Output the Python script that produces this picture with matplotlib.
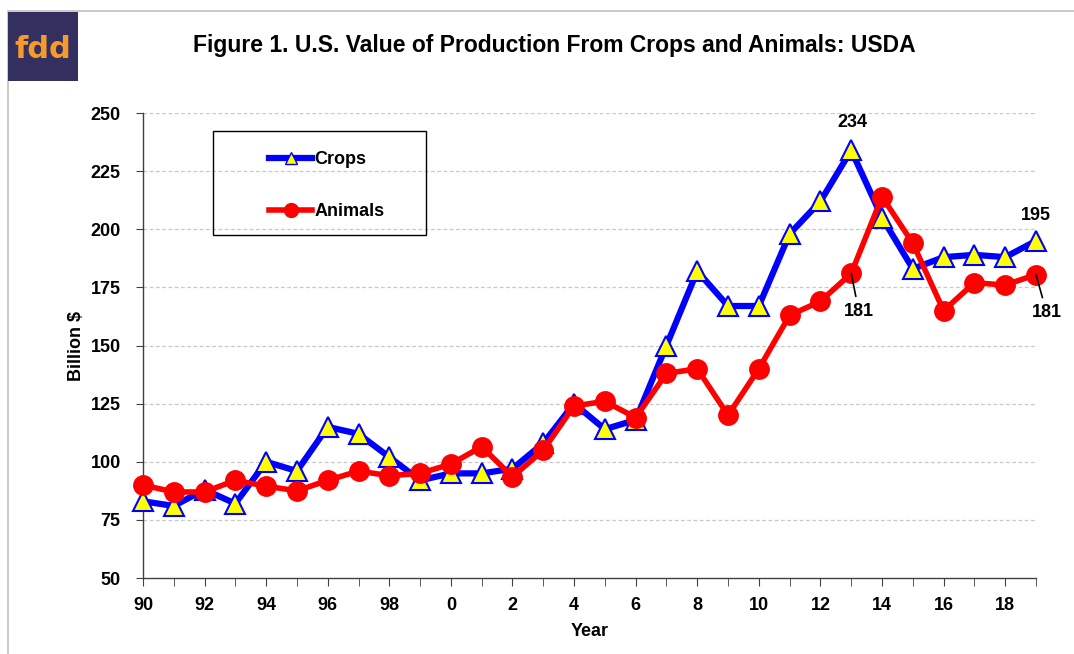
import matplotlib
matplotlib.use("Agg")
import matplotlib.pyplot as plt
from matplotlib.lines import Line2D
from matplotlib.patches import Rectangle

plt.rcParams['font.family'] = ['Liberation Sans', 'DejaVu Sans']

# values (billion $)
years = list(range(1990, 2020))
crops = [83, 81, 88, 82, 100, 96, 115, 112, 102, 92,
         95, 95, 97, 108, 125, 114, 118, 150, 182, 167,
         167, 198, 212, 234, 205, 183, 188, 189, 188, 195]
animals = [90, 87, 87, 92, 89.5, 87.5, 92, 96, 94, 95,
           99, 106.5, 93.5, 105, 124, 126, 119, 138, 140, 120,
           140, 163, 169, 181, 214, 194, 165, 177, 176, 180.5]
tick_years = list(range(1990, 2020, 2))
tick_labels = [str(y % 100) for y in tick_years]

fig = plt.figure(figsize=(10.74, 6.54), dpi=100)
ax = fig.add_axes([0.1331, 0.1162, 0.8315, 0.7110])

ax.plot(years, crops, color='#0000ff', lw=4.5, marker='^', ms=14,
        mfc='#ffff00', mec='#0000ff', mew=1.5, zorder=3, clip_on=False)
ax.plot(years, animals, color='#ff0000', lw=4, marker='o', ms=14,
        mfc='#ff0000', mec='#ff0000', zorder=4, clip_on=False)

ax.set_xlim(1990, 2019)
ax.set_ylim(50, 250)
ax.set_yticks(range(50, 251, 25))
ax.set_xticks(years, minor=True)
ax.set_xticks(tick_years)
ax.set_xticklabels(tick_labels)
for y in range(75, 251, 25):
    ax.axhline(y, color='#c8c8c8', lw=0.9, ls=(0, (3, 2)), zorder=0)

ax.spines['top'].set_visible(False)
ax.spines['right'].set_visible(False)
for s in ('left', 'bottom'):
    ax.spines[s].set_color('#404040')
    ax.spines[s].set_linewidth(1)
ax.tick_params(axis='y', direction='out', length=5, color='#404040', labelsize=13, pad=11)
ax.tick_params(axis='x', which='both', direction='out', length=6, color='#404040', labelsize=13, pad=8)
for lab in ax.get_xticklabels() + ax.get_yticklabels():
    lab.set_fontweight('bold')
ax.set_ylabel('Billion $', fontsize=13, fontweight='bold', labelpad=4)
ax.set_xlabel('Year', fontsize=13, fontweight='bold', labelpad=6)

# annotations
ax.text(2013.05, 246, '234', ha='center', va='center', fontsize=13, fontweight='bold')
ax.text(2019.0, 206, '195', ha='center', va='center', fontsize=13, fontweight='bold')
ax.annotate('181', xy=(2013, 181), xytext=(2013.25, 164.5), ha='center', va='center',
            fontsize=13, fontweight='bold', zorder=6,
            arrowprops=dict(arrowstyle='-', color='black', lw=1.2, shrinkA=3, shrinkB=0))
ax.annotate('181', xy=(2019, 180.5), xytext=(2019.35, 164), ha='center', va='center',
            fontsize=13, fontweight='bold', annotation_clip=False, zorder=6,
            arrowprops=dict(arrowstyle='-', color='black', lw=1.2, shrinkA=3, shrinkB=0))

# legend box
handles = [Line2D([], [], color='#0000ff', lw=4.5, marker='^', ms=9, mfc='#ffff00', mec='#0000ff'),
           Line2D([], [], color='#ff0000', lw=4, marker='o', ms=10, mfc='#ff0000', mec='#ff0000')]
leg = ax.legend(handles, ['Crops', 'Animals'], loc='upper left', frameon=False,
                bbox_to_anchor=(0.131, 0.938), borderpad=0, handlelength=2.4,
                handletextpad=0.1, labelspacing=1.95,
                prop={'weight': 'bold', 'size': 13})
ax.add_patch(Rectangle((0.0784, 0.737), 0.2385, 0.2237, transform=ax.transAxes,
                       fill=False, edgecolor='black', lw=1, zorder=5, clip_on=False))

fig.text(0.516, 0.931, 'Figure 1. U.S. Value of Production From Crops and Animals: USDA',
         ha='center', va='center', fontsize=16.5, fontweight='bold')

# outer frame and logo
fig.patches.append(Rectangle((8 / 1074, -0.1), 1.2, 1 - 11 / 654 + 0.1, transform=fig.transFigure,
                             fill=False, edgecolor='#c0c0c0', lw=1.2))
fig.patches.append(Rectangle((8 / 1074, 1 - 81 / 654), 70 / 1074, 69 / 654,
                             transform=fig.transFigure, facecolor='#33305f', edgecolor='none'))
fig.text(43 / 1074, 1 - 49 / 654, 'fdd', ha='center', va='center', fontsize=22,
         fontweight='bold', color='#f79a2e', family='DejaVu Sans')

fig.savefig('out.png', dpi=100)
